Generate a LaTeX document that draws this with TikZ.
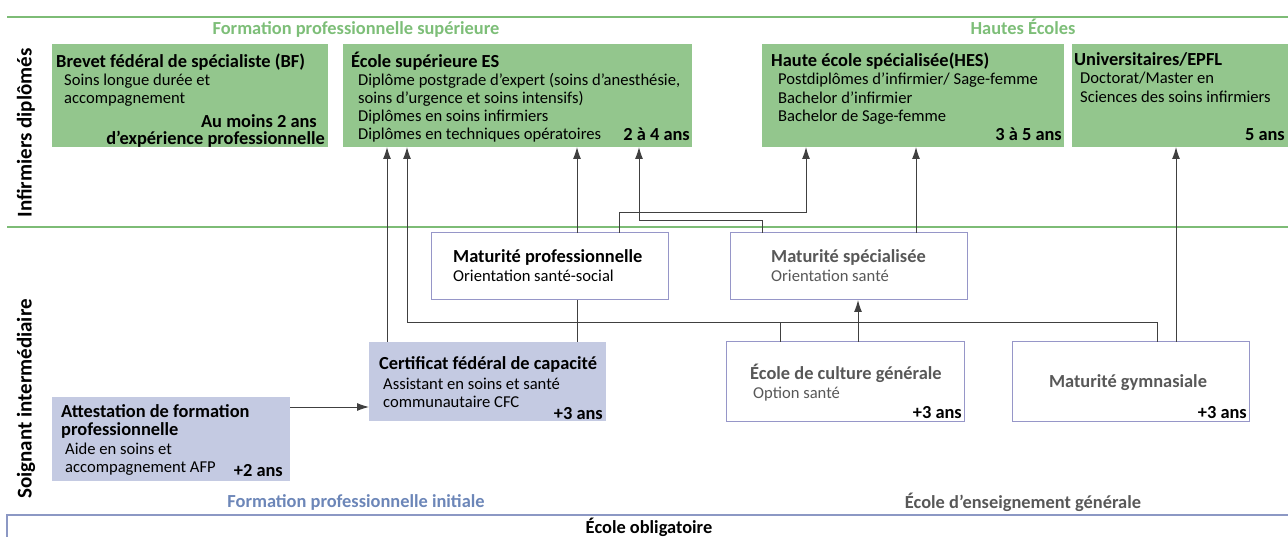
\documentclass[tikz,border=0pt]{standalone}
\usepackage{fontspec}
\setmainfont{Carlito}
\usetikzlibrary{arrows.meta,calc}
\definecolor{boxgreen}{RGB}{147,198,141}
\definecolor{boxblue}{RGB}{196,202,226}
\definecolor{boxline}{RGB}{150,150,200}
\definecolor{linegreen}{RGB}{125,188,118}
\definecolor{lineblue}{RGB}{140,152,196}
\definecolor{txtgreen}{RGB}{125,190,120}
\definecolor{txtblue}{RGB}{108,134,184}
\definecolor{txtgray}{RGB}{88,88,88}
\begin{document}
\begin{tikzpicture}[x=1pt,y=-1pt,
    gbox/.style={fill=boxgreen,inner sep=0,outer sep=0,anchor=north west},
    bbox/.style={fill=boxblue,inner sep=0,outer sep=0,anchor=north west},
    wbox/.style={draw=boxline,line width=1pt,fill=white,inner sep=0,outer sep=0,anchor=north west},
    ttl/.style={anchor=base west,inner sep=0,font=\fontsize{18.4}{20}\selectfont\bfseries},
    txt/.style={anchor=base west,inner sep=0,font=\fontsize{16.6}{18}\selectfont},
    dur/.style={anchor=base east,inner sep=0,font=\fontsize{18.4}{20}\selectfont\bfseries},
    sect/.style={anchor=base,inner sep=0,font=\fontsize{18.4}{20}\selectfont\bfseries},
    side/.style={rotate=90,inner sep=0,font=\fontsize{21}{24}\selectfont\bfseries},
    ln/.style={draw=black!75,line width=1pt},
    arr/.style={ln,-{Latex[length=12pt,width=8pt]}}]
  \useasboundingbox (0,0) rectangle (1288,537);

  % section lines
  \draw[linegreen,line width=2pt] (7,17) -- (1288,17);
  \draw[linegreen,line width=2pt] (7,227) -- (1288,227);
  \draw[lineblue,line width=2pt] (7,541) -- (7,515) -- (1288,515);

  \node[side] (infd) at (26,133) {Infirmiers diplômés};
  \node[side] (soin) at (26,399) {Soignant intermédiaire};

  \node[sect,txtgreen] (fps) at (356,35) {Formation professionnelle supérieure};
  \node[sect,txtgreen] (hec) at (1023,35) {Hautes Écoles};
  \node[sect,txtblue] (fpi) at (356,507) {Formation professionnelle initiale};
  \node[sect,txtgray] (eeg) at (1023,508) {École d'enseignement générale};
  \node[anchor=base,inner sep=0,font=\fontsize{18.4}{20}\selectfont\bfseries] (eob) at (649,533) {École obligatoire};

  % green boxes
  \node[gbox,minimum width=276,minimum height=103] (bf) at (52,44) {};
  \node[gbox,minimum width=349,minimum height=103] (es) at (343,44) {};
  \node[gbox,minimum width=302,minimum height=103] (hes) at (762,44) {};
  \node[gbox,minimum width=220,minimum height=103] (uni) at (1072,44) {};

  \node[ttl] (bft) at (56,68) {Brevet fédéral de spécialiste (BF)};
  \node[txt] (bf1) at (64,86) {Soins longue durée et};
  \node[txt] (bf2) at (64,104) {accompagnement};
  \node[dur] (bf3) at (317,128) {Au moins 2 ans};
  \node[dur] (bf4) at (325,145) {d'expérience professionnelle};

  \node[ttl] (est) at (351,68) {École supérieure ES};
  \node[txt] (es1) at (358,86) {Diplôme postgrade d'expert (soins d'anesthésie,};
  \node[txt] (es2) at (358,104) {soins d'urgence et soins intensifs)};
  \node[txt] (es3) at (358,122) {Diplômes en soins infirmiers};
  \node[txt] (es4) at (358,140) {Diplômes en techniques opératoires};
  \node[dur] (es5) at (690,141) {2 à 4 ans};

  \node[ttl] (hest) at (771,67) {Haute école spécialisée(HES)};
  \node[txt] (hes1) at (778,85) {Postdiplômes d'infirmier/ Sage-femme};
  \node[txt] (hes2) at (778,104) {Bachelor d'infirmier};
  \node[txt] (hes3) at (778,122) {Bachelor de Sage-femme};
  \node[dur] (hes4) at (1062,141) {3 à 5 ans};

  \node[ttl] (unit) at (1074,66) {Universitaires/EPFL};
  \node[txt] (uni1) at (1080,84) {Doctorat/Master en};
  \node[txt] (uni2) at (1080,103) {Sciences des soins infirmiers};
  \node[dur] (uni3) at (1285,141) {5 ans};

  % white boxes
  \node[wbox,minimum width=237,minimum height=67] (mpro) at (431,233) {};
  \node[wbox,minimum width=237,minimum height=67] (mspe) at (730,233) {};
  \node[wbox,minimum width=238,minimum height=79] (ecg) at (726,342) {};
  \node[wbox,minimum width=237,minimum height=79] (mgym) at (1012,342) {};

  \node[ttl] (mprot) at (453,263) {Maturité professionnelle};
  \node[txt] (mpro1) at (453,282) {Orientation santé-social};
  \node[ttl,txtgray] (mspet) at (771,263) {Maturité spécialisée};
  \node[txt,txtgray] (mspe1) at (771,282) {Orientation santé};
  \node[ttl,txtgray] (ecgt) at (750,379) {École de culture générale};
  \node[txt,txtgray] (ecg1) at (753,398) {Option santé};
  \node[dur] (ecg2) at (962,418) {+3 ans};
  \node[ttl,txtgray,anchor=base] (mgymt) at (1128,388) {Maturité gymnasiale};
  \node[dur] (mgym1) at (1247,418) {+3 ans};

  % blue boxes
  \node[bbox,minimum width=237,minimum height=79] (cfc) at (369,342) {};
  \node[bbox,minimum width=238,minimum height=84] (afp) at (52,397) {};

  \node[ttl] (cfct) at (379,370) {Certificat fédéral de capacité};
  \node[txt] (cfc1) at (383,389) {Assistant en soins et santé};
  \node[txt] (cfc2) at (383,407) {communautaire CFC};
  \node[dur] (cfc3) at (603,419) {+3 ans};

  \node[ttl] (afpt) at (61,417) {Attestation de formation};
  \node[ttl] (afp1) at (61,435) {professionnelle};
  \node[txt] (afp2) at (65,454) {Aide en soins et};
  \node[txt] (afp3) at (65,472) {accompagnement AFP};
  \node[dur] (afp4) at (283,476) {+2 ans};

  % connectors
  \draw[arr] ($(afp.north east)+(0,10)$) coordinate (a1) -- (a1 -| cfc.west);
  \draw[arr] ($(cfc.north west)+(18,0)$) coordinate (c1) -- (c1 |- es.south);
  \draw[ln] ($(cfc.north west)+(208,0)$) coordinate (c2) -- (c2 |- mpro.south);
  \draw[arr] (c2 |- mpro.north) -- (c2 |- es.south);
  \draw[arr] ($(mpro.north west)+(188,0)$) -- ++(0,-20) -| ($(hes.south west)+(44,0)$);
  \draw[arr] ($(mspe.north west)+(32,0)$) -- ++(0,-12) -| ($(es.south west)+(296,0)$);
  \draw[arr] ($(mspe.north west)+(186,0)$) coordinate (c3) -- (c3 |- hes.south);
  \draw[arr] ($(mgym.north west)+(164,0)$) coordinate (c4) -- (c4 |- uni.south);
  \draw[arr] ($(mgym.north west)+(145,0)$) -- ++(0,-19) -| ($(es.south west)+(64,0)$);
  \draw[ln] ($(ecg.north west)+(54,0)$) -- ++(0,-19);
  \draw[arr] ($(ecg.north west)+(132,0)$) coordinate (c5) -- (c5 |- mspe.south);
\end{tikzpicture}
\end{document}
